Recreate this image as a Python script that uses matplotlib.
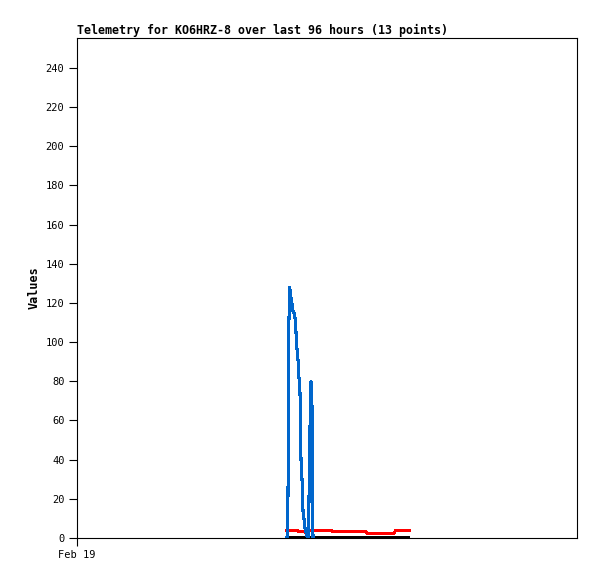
import matplotlib
matplotlib.use("Agg")
import matplotlib.pyplot as plt

# hours since Feb 19 00:00
blue_t = [40.32, 40.51, 40.61, 40.65, 40.84, 40.99, 41.15, 41.47, 41.80, 41.99,
          42.18, 42.43, 42.62, 42.82, 42.85, 42.91, 43.01, 43.20, 43.39, 43.78,
          44.26, 44.45, 44.64, 44.80, 44.93, 45.12, 45.31]
blue_v = [0, 22, 65, 106, 128, 124, 122, 116, 114, 108,
          98, 91, 82, 74, 64, 54, 40, 30, 14, 5,
          0, 0, 40, 67, 80, 67, 0]

red_t = [40.32, 42.43, 42.62, 43.78, 44.16, 44.54, 48.90, 49.15, 55.49, 55.68,
         60.86, 61.15, 63.74]
red_v = [3.7, 3.7, 3.1, 3.1, 2.5, 3.7, 3.7, 3.1, 3.1, 2.5,
         2.5, 3.7, 3.7]

black_t = [40.32, 63.55]
black_v = [0, 0]

yticks = list(range(0, 241, 20))
xtick_labels = ["Feb 19"]

mono = "DejaVu Sans Mono"

fig = plt.figure(figsize=(5.97, 5.79), dpi=100)
ax = fig.add_axes([77 / 597, 41 / 579, 500 / 597, 500 / 579])

ax.plot(black_t, black_v, color="black", lw=1.5, antialiased=False, zorder=2)
ax.plot(red_t, red_v, color="#ff0000", lw=1.5, antialiased=False, zorder=3)
ax.plot(blue_t, blue_v, color="#0066cc", lw=1.5, antialiased=False, zorder=4)

ax.set_xlim(0, 96)
ax.set_ylim(0, 255.3)
ax.set_yticks(yticks)
ax.set_yticklabels([str(v) for v in yticks], fontfamily=mono, fontsize=7.5)
ax.set_xticks([0])
ax.set_xticklabels(xtick_labels, fontfamily=mono, fontsize=7.5)
ax.tick_params(direction="out", length=6, width=0.8, pad=3)

for s in ax.spines.values():
    s.set_linewidth(0.8)

ax.set_title("Telemetry for KO6HRZ-8 over last 96 hours (13 points)",
             loc="left", fontfamily=mono, fontweight="bold", fontsize=8.4, pad=3)
ax.set_ylabel("Values", fontfamily=mono, fontweight="bold", fontsize=8.5, labelpad=4)

fig.savefig("out.png", dpi=100)
